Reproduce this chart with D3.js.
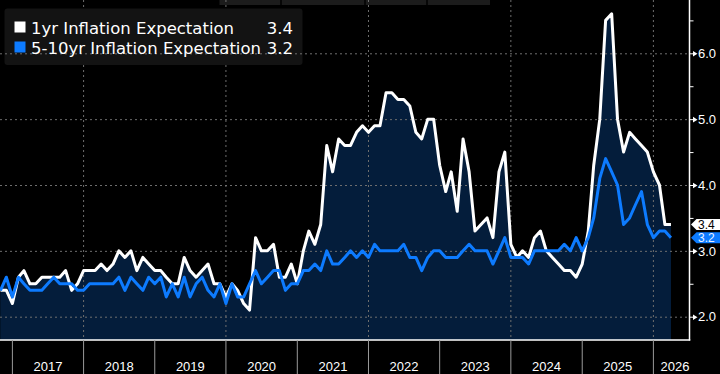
<!DOCTYPE html>
<html><head><meta charset="utf-8">
<script src="https://cdn.jsdelivr.net/npm/d3@7"></script>
<style>html,body{margin:0;padding:0;background:#000;overflow:hidden}</style>
</head><body><svg id="c" width="720" height="374"></svg>
<script>
// ---- data ----
const seriesNames = ["1yr Inflation Expectation", "5-10yr Inflation Expectation"];
const seriesColors = ["#ffffff", "#0d7bff"];
const startMonth = "2016-10"; // first monthly observation (plotted at month end)
const oneYear = [
  2.4, 2.4, 2.2,
  2.6, 2.7, 2.5, 2.5, 2.6, 2.6, 2.6, 2.6, 2.7, 2.4, 2.5, 2.7,
  2.7, 2.7, 2.8, 2.7, 2.8, 3.0, 2.9, 3.0, 2.7, 2.9, 2.8, 2.7,
  2.7, 2.6, 2.5, 2.5, 2.9, 2.7, 2.6, 2.7, 2.8, 2.5, 2.5, 2.3,
  2.5, 2.4, 2.2, 2.1, 3.2, 3.0, 3.0, 3.1, 2.6, 2.6, 2.8, 2.5,
  3.0, 3.3, 3.1, 3.4, 4.6, 4.2, 4.7, 4.6, 4.6, 4.8, 4.9, 4.8,
  4.9, 4.9, 5.4, 5.4, 5.3, 5.3, 5.2, 4.8, 4.7, 5.0, 5.0, 4.3,
  3.9, 4.2, 3.6, 4.7, 4.2, 3.3, 3.4, 3.5, 3.2, 4.2, 4.5, 3.1,
  2.9, 3.0, 2.9, 3.2, 3.3, 3.0, 2.9, 2.8, 2.7, 2.7, 2.6, 2.8,
  3.3, 4.3, 5.0, 6.5, 6.6, 5.0, 4.5, 4.8, 4.7, 4.6, 4.5, 4.2,
  4.0, 3.4, 3.4
];
const fiveTenYear = [
  2.4, 2.6, 2.3,
  2.6, 2.5, 2.4, 2.4, 2.4, 2.5, 2.6, 2.5, 2.5, 2.5, 2.4, 2.4,
  2.5, 2.5, 2.5, 2.5, 2.5, 2.6, 2.4, 2.6, 2.5, 2.4, 2.6, 2.5,
  2.6, 2.3, 2.5, 2.3, 2.6, 2.3, 2.5, 2.6, 2.4, 2.3, 2.5, 2.2,
  2.5, 2.3, 2.3, 2.5, 2.7, 2.5, 2.6, 2.7, 2.7, 2.4, 2.5, 2.5,
  2.7, 2.7, 2.8, 2.7, 3.0, 2.8, 2.8, 2.9, 3.0, 2.9, 3.0, 2.9,
  3.1, 3.0, 3.0, 3.0, 3.0, 3.1, 2.9, 2.9, 2.7, 2.9, 3.0, 3.0,
  2.9, 2.9, 2.9, 3.0, 3.1, 3.0, 3.0, 3.0, 2.8, 3.0, 3.2, 2.9,
  2.9, 2.9, 2.8, 3.0, 3.0, 3.0, 3.0, 3.0, 3.1, 3.0, 3.2, 3.0,
  3.2, 3.5, 4.1, 4.4, 4.2, 4.0, 3.4, 3.5, 3.7, 3.9, 3.4, 3.2,
  3.3, 3.3, 3.2
];
const yearLabels = ["2017","2018","2019","2020","2021","2022","2023","2024","2025","2026"];
const gridYears = ["2018","2020","2022","2024","2026"];
const yTicks = [2, 3, 4, 5, 6];
const yMinorTicks = [2.5, 3.5, 4.5, 5.5, 6.5];

// ---- layout ----
const W = 720, H = 374, plotRight = 689.5, plotBottom = 340;
const fillColor = "#041d3b";
const gridColor = "#6e6e6e";
const svg = d3.select("#c");
svg.append("rect").attr("width", W).attr("height", H).attr("fill", "#000");

const parseM = d3.timeParse("%Y-%m");
const parseY = d3.timeParse("%Y");
const x = d3.scaleTime().domain([parseY("2017"), parseY("2026")]).range([12.4, 653.4]);
const y = d3.scaleLinear().domain([2, 6]).range([316.7, 53.3]);
const start = parseM(startMonth);
const dates = oneYear.map((_, i) => d3.timeMonth.offset(start, i + 1));
const series = [oneYear, fiveTenYear];

// top UI band (cut off)
const band = svg.append("g");
band.append("rect").attr("x", 219.5).attr("y", 0).attr("width", 270.5).attr("height", 5).attr("fill", "#1c1c1c");
[281, 365, 427].forEach(v => band.append("line").attr("x1", v).attr("x2", v).attr("y1", 0).attr("y2", 5)
  .attr("stroke", "#000").attr("stroke-width", 1.5));

// areas
series.forEach(vals => {
  const area = d3.area().x((d, i) => x(dates[i])).y0(plotBottom).y1(d => y(d));
  svg.append("path").datum(vals).attr("d", area).attr("fill", fillColor);
});

// vertical gridlines
svg.append("g").selectAll("line").data(gridYears).join("line")
  .attr("x1", d => x(parseY(d))).attr("x2", d => x(parseY(d)))
  .attr("y1", 0).attr("y2", plotBottom)
  .attr("stroke", gridColor).attr("stroke-dasharray", "2,3").attr("stroke-width", 1);

// legend box
svg.append("rect").attr("x", 4.5).attr("y", 8.5).attr("width", 298).attr("height", 56.5)
  .attr("rx", 3).attr("fill", "#131313");

// horizontal gridlines
svg.append("g").selectAll("line").data(yTicks).join("line")
  .attr("x1", 0).attr("x2", plotRight)
  .attr("y1", d => y(d) + 0.5).attr("y2", d => y(d) + 0.5)
  .attr("stroke", gridColor).attr("stroke-dasharray", "2,3").attr("stroke-width", 1);

// lines
series.forEach((vals, k) => {
  const line = d3.line().x((d, i) => x(dates[i])).y(d => y(d));
  svg.append("path").datum(vals).attr("d", line).attr("fill", "none")
    .attr("stroke", seriesColors[k]).attr("stroke-width", 3)
    .attr("stroke-linejoin", "round");
});

// axis frame
svg.append("line").attr("x1", plotRight).attr("x2", plotRight).attr("y1", 0).attr("y2", plotBottom + 0.5)
  .attr("stroke", "#fff").attr("stroke-width", 1.5);
svg.append("line").attr("x1", 0).attr("x2", plotRight + 0.75).attr("y1", plotBottom).attr("y2", plotBottom)
  .attr("stroke", "#fff").attr("stroke-width", 1.5);

// right axis
const fontAxis = "'Liberation Sans', Arial, sans-serif";
const yAxis = d3.axisRight(y).tickValues(yTicks).tickFormat(d3.format(".1f")).tickSize(6).tickPadding(2.5);
const gy = svg.append("g").attr("transform", `translate(${plotRight},0)`).call(yAxis);
gy.select(".domain").remove();
gy.selectAll(".tick line").attr("stroke", "#fff").attr("stroke-width", 1);
gy.selectAll(".tick").append("path").attr("d", "M3.5,-2.8L8,0L3.5,2.8Z").attr("fill", "#fff");
gy.selectAll(".tick text").attr("fill", "#fff").style("font-family", fontAxis).style("font-size", "13px");
const yMinor = d3.axisRight(y).tickValues(yMinorTicks).tickFormat("").tickSize(4);
const gm = svg.append("g").attr("transform", `translate(${plotRight},0)`).call(yMinor);
gm.select(".domain").remove();
gm.selectAll(".tick line").attr("stroke", "#fff").attr("stroke-width", 1);

// bottom axis: year separators and centered labels
const gx = svg.append("g");
gx.selectAll("line").data(yearLabels).join("line")
  .attr("x1", d => x(parseY(d))).attr("x2", d => x(parseY(d)))
  .attr("y1", plotBottom).attr("y2", H)
  .attr("stroke", "#9a9a9a").attr("stroke-width", 1);
gx.selectAll("text").data(yearLabels).join("text")
  .each(function (d) {
    const a = x(parseY(d));
    const b = x(d3.timeYear.offset(parseY(d), 1));
    const sel = d3.select(this);
    if (b > plotRight) sel.attr("x", plotRight).attr("text-anchor", "end");
    else sel.attr("x", (a + b) / 2).attr("text-anchor", "middle");
  })
  .attr("y", 371)
  .attr("fill", "#fff").style("font-family", fontAxis).style("font-size", "13px")
  .text(d => d);

// last value tags
const tagText = ["#000", "#e8f1ff"];
series.forEach((vals, k) => {
  const v = vals[vals.length - 1];
  const yv = y(v);
  const g = svg.append("g");
  g.append("path")
    .attr("d", `M${plotRight + 1.5},${yv}L${plotRight + 7},${yv - 5.5}L${W},${yv - 5.5}L${W},${yv + 5.5}L${plotRight + 7},${yv + 5.5}Z`)
    .attr("fill", seriesColors[k]);
  g.append("text").attr("x", plotRight + 8.5).attr("y", yv).attr("dy", "0.36em")
    .attr("fill", tagText[k]).style("font-family", fontAxis).style("font-size", "12px")
    .text(d3.format(".1f")(v));
});

// legend
const fontLeg = "'DejaVu Sans', sans-serif";
series.forEach((vals, k) => {
  const base = 33.5 + k * 20;
  svg.append("rect").attr("x", 14.5).attr("y", base - 12).attr("width", 11).attr("height", 11)
    .attr("fill", seriesColors[k]);
  svg.append("text").attr("x", 31).attr("y", base).attr("fill", "#fff")
    .style("font-family", fontLeg).style("font-size", "16.5px").text(seriesNames[k]);
  svg.append("text").attr("x", 293).attr("y", base).attr("text-anchor", "end").attr("fill", "#fff")
    .style("font-family", fontLeg).style("font-size", "16.5px")
    .text(d3.format(".1f")(vals[vals.length - 1]));
});
</script></body></html>
